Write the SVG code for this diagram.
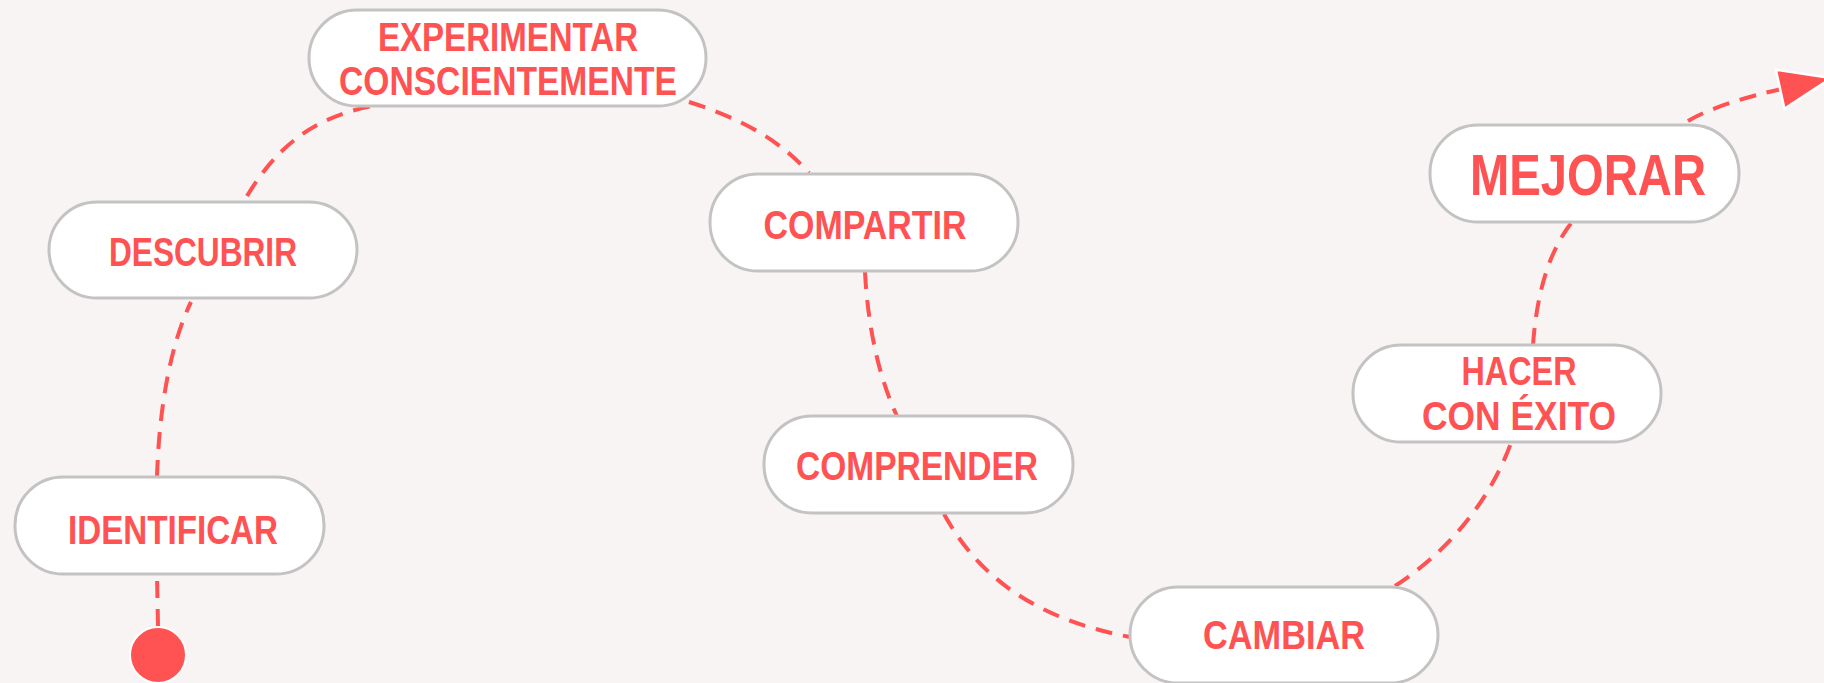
<svg xmlns="http://www.w3.org/2000/svg" width="1824" height="683" viewBox="0 0 1824 683">
<style>
.box{fill:#ffffff;stroke:#c3c3c3;stroke-width:3}
.t{font-family:"Liberation Sans",Arial,sans-serif;font-weight:bold;font-size:40px;fill:#ff5252;text-anchor:middle}
.big{font-size:58px}
.c{fill:none;stroke:#ff5252;stroke-width:4;stroke-dasharray:17 11}
</style>
<defs>
<marker id="ah" markerUnits="userSpaceOnUse" markerWidth="60" markerHeight="60" refX="0" refY="0" viewBox="-10 -30 60 60" orient="auto" overflow="visible">
<path d="M-6,-20 L46,0 L-6,20 Z" fill="#ff5252" stroke="#ffffff" stroke-width="2.5"/>
</marker>
</defs>
<rect width="1824" height="683" fill="#f8f4f3"/>
<g id="connectors">
<path class="c" d="M158,626 L157,575"/>
<path class="c" d="M157,477 C159,410 170,345 191,302"/>
<path class="c" d="M247,196 C275,150 310,118 372,106"/>
<path class="c" d="M689,102 C740,118 780,140 809,173"/>
<path class="c" d="M865,272 C868,330 880,380 897,416"/>
<path class="c" d="M944,514 C980,580 1040,620 1130,637"/>
<path class="c" d="M1395,586 C1450,550 1490,500 1511,443"/>
<path class="c" d="M1533,345 C1537,290 1550,250 1572,222"/>
<path class="c" d="M1688,121 C1710,108 1745,97 1786,88" marker-end="url(#ah)"/>
</g>
<g id="start"><circle cx="158" cy="655" r="28" fill="#ff5252" stroke="#ffffff" stroke-width="2"/></g>
<g id="experimentar">
<rect class="box" x="309" y="10" width="397" height="96" rx="48"/>
<text class="t" x="508" y="51" textLength="260" lengthAdjust="spacingAndGlyphs">EXPERIMENTAR</text>
<text class="t" x="508" y="95" textLength="338" lengthAdjust="spacingAndGlyphs">CONSCIENTEMENTE</text>
</g>
<g id="descubrir">
<rect class="box" x="49" y="202" width="308" height="96" rx="48"/>
<text class="t" x="203" y="266" textLength="188" lengthAdjust="spacingAndGlyphs">DESCUBRIR</text>
</g>
<g id="compartir">
<rect class="box" x="710" y="174" width="308" height="97" rx="48"/>
<text class="t" x="865" y="239" textLength="203" lengthAdjust="spacingAndGlyphs">COMPARTIR</text>
</g>
<g id="mejorar">
<rect class="box" x="1430" y="125" width="309" height="97" rx="48"/>
<text class="t big" x="1588" y="195" textLength="236" lengthAdjust="spacingAndGlyphs">MEJORAR</text>
</g>
<g id="identificar">
<rect class="box" x="15" y="477" width="309" height="97" rx="48"/>
<text class="t" x="173" y="544" textLength="210" lengthAdjust="spacingAndGlyphs">IDENTIFICAR</text>
</g>
<g id="comprender">
<rect class="box" x="764" y="416" width="309" height="97" rx="48"/>
<text class="t" x="917" y="480" textLength="242" lengthAdjust="spacingAndGlyphs">COMPRENDER</text>
</g>
<g id="hacer">
<rect class="box" x="1353" y="345" width="308" height="97" rx="48"/>
<text class="t" x="1519" y="385" textLength="115" lengthAdjust="spacingAndGlyphs">HACER</text>
<text class="t" x="1519" y="430" textLength="194" lengthAdjust="spacingAndGlyphs">CON ÉXITO</text>
</g>
<g id="cambiar">
<rect class="box" x="1130" y="587" width="308" height="96" rx="48"/>
<text class="t" x="1284" y="649" textLength="162" lengthAdjust="spacingAndGlyphs">CAMBIAR</text>
</g>
</svg>
